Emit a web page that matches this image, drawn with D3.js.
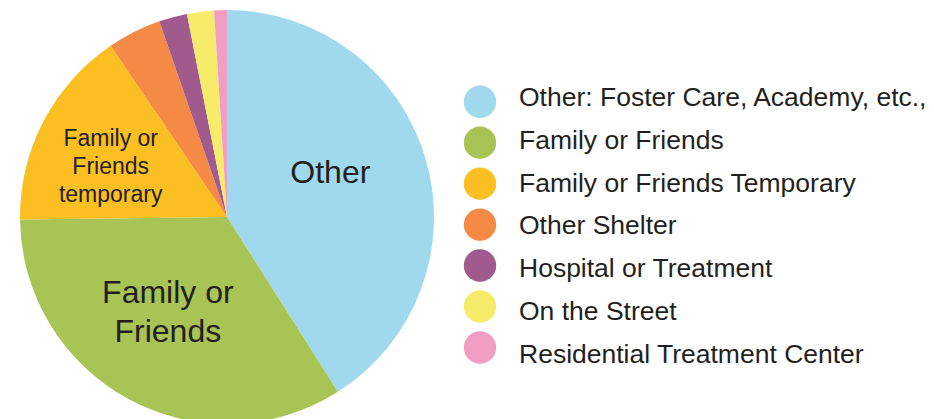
<!DOCTYPE html>
<html>
<head>
<meta charset="utf-8">
<script src="https://cdn.jsdelivr.net/npm/d3@7"></script>
<style>
  body { margin: 0; background: #fff; }
  svg text { font-family: "Liberation Sans", Arial, sans-serif; fill: #231f20; }
</style>
</head>
<body>
<div id="chart"></div>
<script>
// slices, clockwise from 12 o'clock
const categories = ["Other: Foster Care, Academy, etc.,", "Family or Friends", "Family or Friends Temporary",
  "Other Shelter", "Hospital or Treatment", "On the Street", "Residential Treatment Center"];
const shares = [41, 33.8, 15.7, 4.2, 2.2, 2.1, 1.0];
const colors = ["#a0d9ee", "#a8c455", "#fbbf22", "#f48a45", "#a05a8e", "#f6ec6a", "#f29dc3"];
// in-slice labels (only the three big slices carry one)
const sliceLabels = [["Other"], ["Family or", "Friends"], ["Family or", "Friends", "temporary"]];

const width = 934, height = 419;
const cx = 227, cy = 217, radius = 207;

const svg = d3.select("#chart").append("svg")
    .attr("width", width)
    .attr("height", height);

const pie = d3.pie().sort(null).value(d => d);
const arc = d3.arc().innerRadius(0).outerRadius(radius);
const arcs = pie(shares);

const g = svg.append("g").attr("transform", `translate(${cx},${cy})`);

g.selectAll("path")
    .data(arcs)
    .join("path")
    .attr("d", arc)
    .attr("fill", (d, i) => colors[i]);

// label settings: radius factor, font size, line gap, nudge of first baseline
const labelStyle = [
    {r: 0.55, size: 32, gap: 38.4, dx: -6, dy: -2},
    {r: 0.60, size: 32, gap: 38.4, dx: 0, dy: -23},
    {r: 0.62, size: 23, gap: 28, dx: -2.5, dy: -11.7}
];

sliceLabels.forEach((lines, i) => {
    const st = labelStyle[i];
    const c = d3.arc().innerRadius(radius * st.r).outerRadius(radius * st.r).centroid(arcs[i]);
    const t = g.append("text")
        .attr("text-anchor", "middle")
        .attr("font-size", st.size)
        .attr("x", c[0] + st.dx)
        .attr("y", c[1] + st.dy);
    lines.forEach((l, j) => {
        t.append("tspan")
            .attr("x", c[0] + st.dx)
            .attr("dy", j === 0 ? 0 : st.gap)
            .text(l);
    });
});

// legend: dots and text rows are spaced a little differently
const dotY = d3.scalePoint().domain(categories).range([101.7, 347.5]);
const textY = d3.scalePoint().domain(categories).range([106, 362.5]);

const legend = svg.append("g").attr("class", "legend");

legend.selectAll("circle")
    .data(categories)
    .join("circle")
    .attr("cx", 480)
    .attr("cy", d => dotY(d))
    .attr("r", 16.2)
    .attr("fill", (d, i) => colors[i]);

legend.selectAll("text")
    .data(categories)
    .join("text")
    .attr("x", 519)
    .attr("y", d => textY(d))
    .attr("font-size", 26.5)
    .text(d => d);
</script>
</body>
</html>
